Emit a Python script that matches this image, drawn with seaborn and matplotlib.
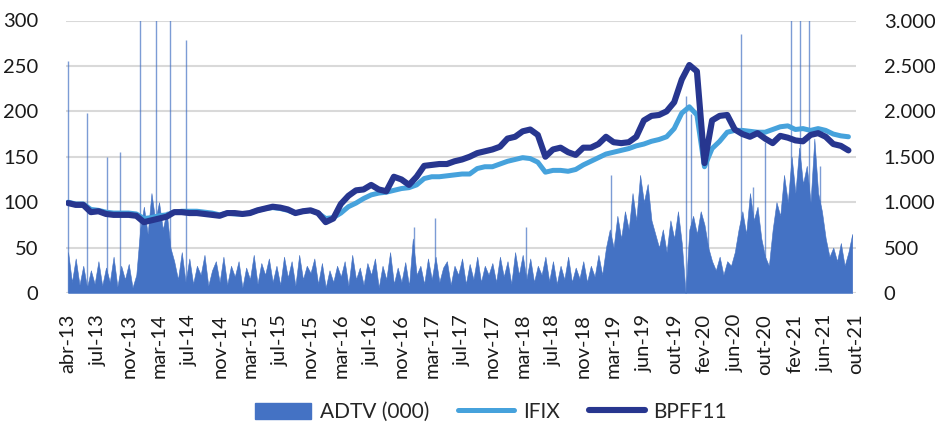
import numpy as np
import pandas as pd
import matplotlib
matplotlib.use("Agg")
import matplotlib.pyplot as plt
import seaborn as sns
from matplotlib.patches import Patch
from matplotlib.lines import Line2D

sns.set_theme(style="white")
plt.rcParams["font.family"] = ["Lato", "DejaVu Sans"]

# x tick labels, one every ~4 months (evenly spaced on the category axis)
tick_labels = ["abr-13", "jul-13", "nov-13", "mar-14", "jul-14", "nov-14", "mar-15",
               "jul-15", "nov-15", "mar-16", "jul-16", "nov-16", "mar-17", "jul-17",
               "nov-17", "mar-18", "jul-18", "nov-18", "mar-19", "jun-19", "out-19",
               "fev-20", "jun-20", "out-20", "fev-21", "jun-21", "out-21"]

# index series (base 100), sampled 4 times per label interval
bpff11 = [99, 97, 97, 89, 90, 87, 86, 86, 86, 85, 78, 80, 82, 84, 89, 89,
          88, 88, 87, 86, 85, 88, 88, 87, 88, 91, 93, 95, 94, 92, 88, 90,
          91, 88, 78, 82, 98, 107, 113, 114, 119, 114, 112, 128, 125, 119, 128, 140,
          141, 142, 142, 145, 147, 150, 154, 156, 158, 161, 170, 172, 178, 180, 174, 150,
          158, 160, 155, 152, 160, 160, 164, 172, 166, 165, 166, 172, 190, 195, 196, 200,
          210, 235, 251, 244, 143, 190, 195, 196, 180, 175, 172, 176, 170, 165, 173, 171,
          168, 167, 174, 176, 172, 164, 162, 157]
ifix = [100, 98, 98, 92, 91, 89, 88, 88, 88, 87, 82, 83, 85, 86, 89, 90,
        90, 90, 89, 88, 86, 88, 87, 87, 88, 91, 93, 94, 93, 91, 88, 90,
        91, 88, 82, 83, 88, 95, 99, 104, 108, 110, 111, 113, 115, 116, 119, 126,
        128, 128, 129, 130, 131, 131, 137, 139, 139, 142, 145, 147, 149, 148, 144, 133,
        135, 135, 134, 136, 141, 145, 149, 153, 155, 157, 159, 162, 164, 167, 169, 172,
        181, 198, 205, 196, 139, 159, 167, 177, 179, 179, 178, 177, 177, 180, 183, 184,
        180, 181, 179, 181, 179, 175, 173, 172]

# ADTV (R$ 000), sampled 8 times per label interval
adtv = [450, 120, 380, 90, 300, 60, 250, 100,
        350, 80, 280, 120, 400, 70, 300, 150,
        320, 60, 200, 700, 950, 650, 1100, 800,
        1000, 700, 900, 500, 350, 150, 450, 120,
        380, 100, 300, 200, 420, 80, 250, 350,
        120, 400, 90, 300, 180, 350, 60, 280,
        150, 420, 100, 330, 200, 380, 120, 300,
        90, 400, 170, 350, 80, 420, 150, 300,
        220, 380, 100, 330, 60, 250, 120, 300,
        180, 350, 80, 420, 150, 280, 90, 330,
        200, 380, 60, 300, 150, 450, 100, 280,
        120, 340, 80, 600, 200, 300, 100, 380,
        150, 400, 120, 280, 350, 90, 300, 200,
        380, 100, 320, 150, 400, 120, 300, 200,
        330, 120, 400, 180, 350, 100, 450, 200,
        420, 150, 380, 120, 300, 200, 400, 130,
        350, 100, 300, 150, 400, 120, 280, 160,
        350, 120, 300, 180, 420, 200, 500, 700,
        500, 850, 600, 900, 700, 1100, 800, 1300,
        1000, 1200, 800, 650, 500, 700, 450, 800,
        600, 900, 550, 0, 700, 850, 650, 900,
        750, 500, 350, 250, 400, 200, 350, 300,
        450, 700, 900, 650, 1100, 800, 950, 600,
        400, 300, 700, 1000, 850, 1300, 1000, 1500,
        1100, 1600, 1200, 1400, 1000, 1700, 1100, 900,
        600, 400, 500, 350, 550, 300, 450, 650]

# single-day ADTV spikes: position (in label intervals) and value
spike_pos = [0.0, 0.62, 1.29, 1.7, 2.37, 2.9, 3.36, 3.89, 11.4, 12.1, 15.1, 17.9,
             20.4, 20.55, 21.1, 22.2, 22.6, 23.0, 23.85, 24.15, 24.45, 24.8]
spike_val = [2550, 1980, 1500, 1550, 3500, 3500, 3500, 2780, 730, 830, 730, 1300,
             2170, 1970, 1500, 2850, 1170, 1660, 3500, 3500, 3500, 1400]

step_line = 0.25
step_adtv = 0.125
df_lines = pd.DataFrame({
    "x": np.arange(len(bpff11)) * step_line,
    "BPFF11": bpff11,
    "IFIX": ifix,
})
x_adtv = np.arange(len(adtv)) * step_adtv

c_adtv = "#4472C4"
c_ifix = "#46A2DC"
c_bpff = "#27368F"
c_grid = "#D9D9D9"
c_text = "#1A1A1A"

fig = plt.figure(figsize=(9.35, 4.3), dpi=100)
ax = fig.add_axes([66 / 935, 1 - 293 / 430, (856 - 66) / 935, (293 - 20.5) / 430])

# ADTV area on the bottom axis (right scale)
ax.fill_between(x_adtv, adtv, 0, color=c_adtv, linewidth=0.4, edgecolor=c_adtv, zorder=2)
ax.vlines(spike_pos, 0, spike_val, color=c_adtv, linewidth=1.0, alpha=0.7, zorder=2)
ax.set_ylim(0, 3000)
ax.grid(axis="y", color=c_grid, linewidth=1.5, zorder=0)
ax.set_axisbelow(True)

# index lines on the top axis (left scale)
ax2 = ax.twinx()
sns.lineplot(data=df_lines, x="x", y="IFIX", color=c_ifix, linewidth=3.6, ax=ax2,
             solid_capstyle="round", solid_joinstyle="round")
sns.lineplot(data=df_lines, x="x", y="BPFF11", color=c_bpff, linewidth=4.4, ax=ax2,
             solid_capstyle="round", solid_joinstyle="round")
ax2.set_ylim(0, 300)
ax2.set_yticks(np.arange(0, 301, 50))
ax2.set_ylabel("")
ax2.set_xlabel("")

# twinx moves the host ticks to the left, so set the sides afterwards
ax.yaxis.tick_right()
ax.set_yticks(np.arange(0, 3001, 500))
ax.set_yticklabels([f"{v:,.0f}".replace(",", ".") for v in np.arange(0, 3001, 500)])
ax2.yaxis.tick_left()

ax.set_xlim(-0.07, 26.0)
ax.set_xticks(np.arange(len(tick_labels)))
ax.set_xticklabels(tick_labels, rotation=90)
ax.set_xlabel("")

for a in (ax, ax2):
    for s in a.spines.values():
        s.set_visible(False)
    a.tick_params(length=0, labelsize=14.5, colors=c_text)
ax.tick_params(axis="y", pad=20)
ax2.tick_params(axis="y", pad=20)
ax.tick_params(axis="x", pad=15)

handles = [Patch(facecolor=c_adtv, edgecolor=c_adtv),
           Line2D([], [], color=c_ifix, linewidth=3.6, solid_capstyle="round"),
           Line2D([], [], color=c_bpff, linewidth=4.4, solid_capstyle="round")]
fig.legend(handles, ["ADTV (000)", "IFIX", "BPFF11"], loc="lower center",
           bbox_to_anchor=(0.525, -0.025), ncol=3, frameon=False, fontsize=15,
           handlelength=2.7, handleheight=0.8, columnspacing=1.4, handletextpad=0.4)

fig.savefig("out.png", dpi=100)
